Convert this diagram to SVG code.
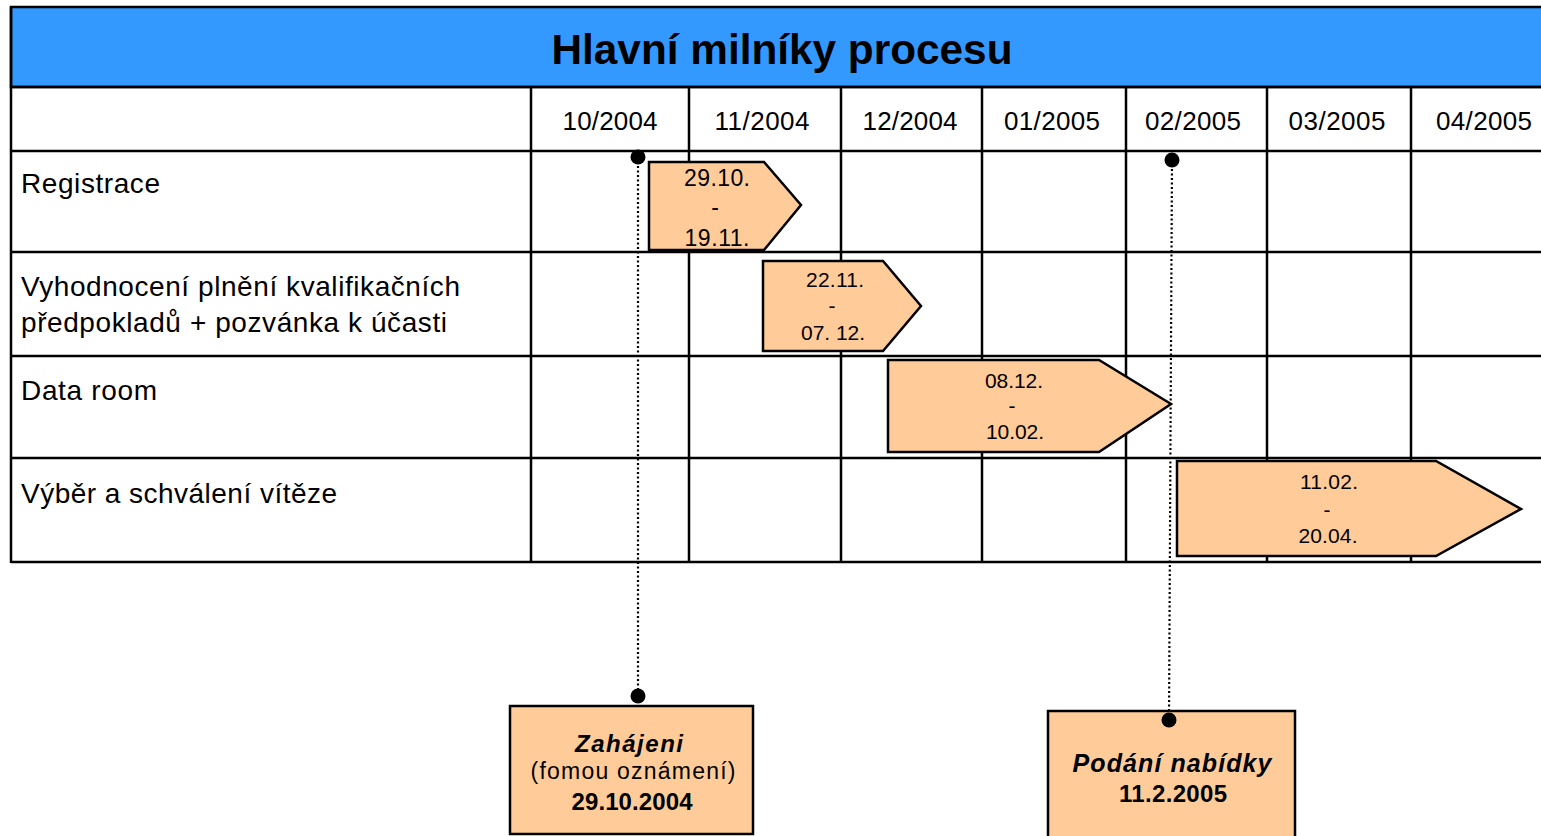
<svg xmlns="http://www.w3.org/2000/svg" width="1541" height="836" viewBox="0 0 1541 836">
<style>
  text { font-family: "Liberation Sans", Arial, sans-serif; fill: #000; }
  .grid { stroke: #000; stroke-width: 2.5; fill: none; }
  .title { font-size: 42px; font-weight: bold; text-anchor: middle; }
  .month { font-size: 26px; text-anchor: middle; }
  .row { font-size: 28px; }
  .bar { fill: #FFCC99; stroke: #000; stroke-width: 2.5; stroke-linejoin: miter; }
  .bt { font-size: 21px; text-anchor: middle; }
  .box { fill: #FFCC99; stroke: #000; stroke-width: 2.5; }
  .mt { font-size: 24px; text-anchor: middle; }
  .b { font-weight: bold; }
  .bi { font-weight: bold; font-style: italic; }
  .dot { stroke: #000; stroke-width: 2.2; stroke-dasharray: 2 2.5; fill: none; }
</style>
<rect x="0" y="0" width="1541" height="836" fill="#fff"/>

<g id="table">
  <rect x="11" y="7" width="1545" height="80" fill="#3399FF" stroke="#000" stroke-width="2.5"/>
  <text class="title" x="782" y="64" textLength="461" lengthAdjust="spacingAndGlyphs">Hlavní milníky procesu</text>
  <line class="grid" x1="11" y1="87" x2="1556" y2="87"/>
  <line class="grid" x1="11" y1="151" x2="1556" y2="151"/>
  <line class="grid" x1="11" y1="252" x2="1556" y2="252"/>
  <line class="grid" x1="11" y1="356" x2="1556" y2="356"/>
  <line class="grid" x1="11" y1="458" x2="1556" y2="458"/>
  <line class="grid" x1="11" y1="562" x2="1556" y2="562"/>
  <line class="grid" x1="11" y1="7" x2="11" y2="563"/>
  <line class="grid" x1="531" y1="87" x2="531" y2="562"/>
  <line class="grid" x1="689" y1="87" x2="689" y2="562"/>
  <line class="grid" x1="841" y1="87" x2="841" y2="562"/>
  <line class="grid" x1="982" y1="87" x2="982" y2="562"/>
  <line class="grid" x1="1126" y1="87" x2="1126" y2="562"/>
  <line class="grid" x1="1267" y1="87" x2="1267" y2="562"/>
  <line class="grid" x1="1411" y1="87" x2="1411" y2="562"/>
  <text class="month" x="610" y="130" textLength="95">10/2004</text>
  <text class="month" x="762" y="130" textLength="95">11/2004</text>
  <text class="month" x="910" y="130" textLength="95">12/2004</text>
  <text class="month" x="1052" y="130" textLength="96">01/2005</text>
  <text class="month" x="1193" y="130" textLength="96">02/2005</text>
  <text class="month" x="1337" y="130" textLength="97">03/2005</text>
  <text class="month" x="1484" y="130" textLength="96">04/2005</text>
  <text class="row" x="21" y="193" textLength="139">Registrace</text>
  <text class="row" x="21" y="296" textLength="439">Vyhodnocení plnění kvalifikačních</text>
  <text class="row" x="21" y="332" textLength="426">předpokladů + pozvánka k účasti</text>
  <text class="row" x="21" y="400" textLength="136">Data room</text>
  <text class="row" x="21" y="503" textLength="316">Výběr a schválení vítěze</text>
</g>

<g id="bar-registrace">
  <polygon class="bar" points="649,162 764,162 801,205 764,250 649,250"/>
  <text class="bt" style="font-size:23px" x="717" y="186" textLength="66">29.10.</text>
  <text class="bt" style="font-size:23px" x="715" y="215">-</text>
  <text class="bt" style="font-size:23px" x="717" y="246" textLength="65">19.11.</text>
</g>

<g id="bar-vyhodnoceni">
  <polygon class="bar" points="763,261 883,261 921,306 883,351 763,351"/>
  <text class="bt" x="835" y="287" textLength="58">22.11.</text>
  <text class="bt" x="832" y="313">-</text>
  <text class="bt" x="833" y="340" textLength="64">07. 12.</text>
</g>

<g id="bar-dataroom">
  <polygon class="bar" points="888,360 1099,360 1171,404 1099,452 888,452"/>
  <text class="bt" x="1014" y="388" textLength="58">08.12.</text>
  <text class="bt" x="1012" y="413">-</text>
  <text class="bt" x="1015" y="439" textLength="58">10.02.</text>
</g>

<g id="bar-vyber">
  <polygon class="bar" points="1177,461 1436,461 1521,509 1436,556 1177,556"/>
  <text class="bt" x="1329" y="489" textLength="58">11.02.</text>
  <text class="bt" x="1327" y="517">-</text>
  <text class="bt" x="1328" y="543" textLength="59">20.04.</text>
</g>

<g id="milestone-zahajeni">
  <rect class="box" x="510" y="706" width="243" height="128"/>
  <text class="mt bi" x="629" y="752" textLength="108">Zahájeni</text>
  <text class="mt" style="font-size:23px" x="633" y="779" textLength="205">(fomou oznámení)</text>
  <text class="mt b" x="632" y="810" textLength="121">29.10.2004</text>
</g>

<g id="milestone-podani">
  <rect class="box" x="1048" y="711" width="247" height="140"/>
  <text class="mt bi" style="font-size:25px" x="1172" y="772" textLength="199">Podání nabídky</text>
  <text class="mt b" x="1173" y="802" textLength="108">11.2.2005</text>
</g>

<g id="connectors">
  <line class="dot" x1="638" y1="157" x2="638" y2="696"/>
  <circle cx="638" cy="157" r="7.5"/>
  <circle cx="638" cy="696" r="7.5"/>
  <line class="dot" x1="1172" y1="160" x2="1169" y2="720"/>
  <circle cx="1172" cy="160" r="7.5"/>
  <circle cx="1169" cy="720" r="7.5"/>
</g>
</svg>
